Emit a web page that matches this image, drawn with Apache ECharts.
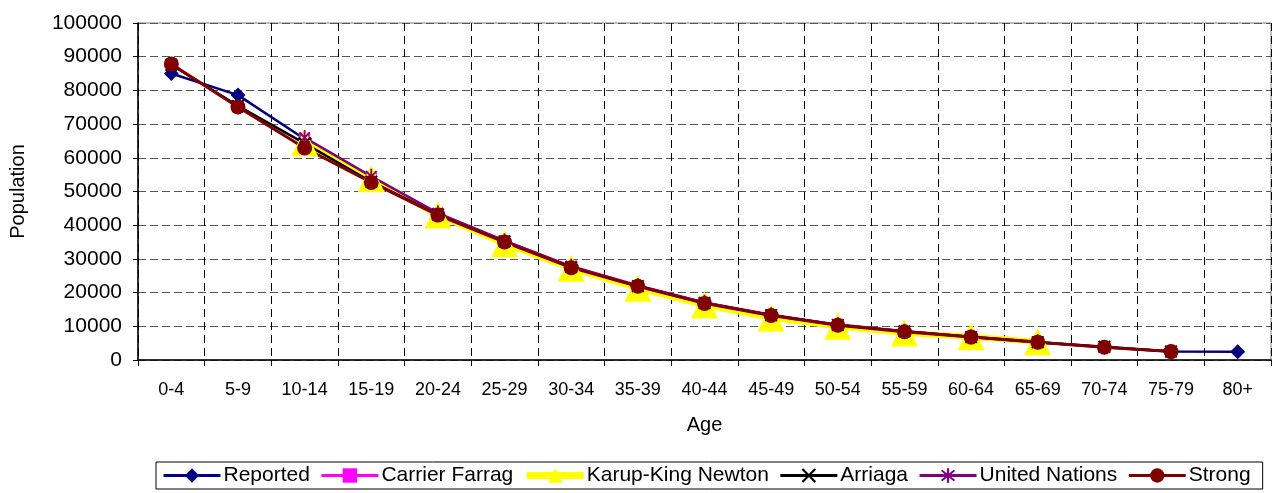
<!DOCTYPE html>
<html>
<head>
<meta charset="utf-8">
<script src="https://cdn.jsdelivr.net/npm/echarts@6/dist/echarts.min.js"></script>
<style>
  html, body { margin: 0; padding: 0; background: #fff; }
  #chart { width: 1272px; height: 493px; }
</style>
</head>
<body>
<div id="chart"></div>
<script>
// Age groups on the horizontal axis
const ageGroups = ['0-4', '5-9', '10-14', '15-19', '20-24', '25-29', '30-34', '35-39', '40-44',
  '45-49', '50-54', '55-59', '60-64', '65-69', '70-74', '75-79', '80+'];

// Population by age group for each smoothing method (null = not computed)
const reported = [85000, 78600, 65600, 53400, 43200, 35200, 27600, 21900, 16900, 13300, 10400, 8400, 6800, 5300, 3800, 2500, 2450];
const carrierFarrag = [null, null, 65800, 54300, 43500, 35300, 27700, 22000, 17000, 13300, 10400, 8400, 6800, 5300, null, null, null];
const karupKingNewton = [null, null, 64500, 53800, 43000, 34500, 27200, 21300, 16300, 12500, 10000, 8000, 6900, 5400, null, null, null];
const arriaga = [87600, 75400, 64300, 52900, 43200, 35200, 27600, 21900, 16900, 13300, 10400, 8500, 6800, 5300, 3900, 2500, null];
const unitedNations = [null, null, 66000, 54500, 43600, 35400, 27800, 22100, 17100, 13400, 10500, 8500, 6900, 5400, null, null, null];
const strong = [87800, 75100, 62900, 52700, 43000, 35000, 27400, 21900, 16800, 13200, 10300, 8400, 6800, 5300, 3800, 2500, null];

// Value axis settings
const yMin = 0, yMax = 100000, yStep = 10000;

const FONT = '"Liberation Sans", Arial, sans-serif';

// Marker shapes drawn as filled paths
const crossPath = 'path://M-6.15,-7.85 L7.85,6.15 L6.15,7.85 L-7.85,-6.15 Z M7.85,-6.15 L-6.15,7.85 L-7.85,6.15 L6.15,-7.85 Z';
const starPath = 'path://M-6.15,-7.85 L7.85,6.15 L6.15,7.85 L-7.85,-6.15 Z M7.85,-6.15 L-6.15,7.85 L-7.85,6.15 L6.15,-7.85 Z M-1.2,-10 L1.2,-10 L1.2,10 L-1.2,10 Z';

const seriesDefs = [
  { name: 'Reported', data: reported, color: '#000080', symbol: 'diamond', size: 15, width: 2.5 },
  { name: 'Carrier Farrag', data: carrierFarrag, color: '#FF00FF', symbol: 'rect', size: 11, width: 2.5 },
  { name: 'Karup-King Newton', data: karupKingNewton, color: '#FFFF00', symbol: 'triangle', size: 27, width: 6 },
  { name: 'Arriaga', data: arriaga, color: '#000000', symbol: crossPath, size: 13, width: 2.5 },
  { name: 'United Nations', data: unitedNations, color: '#800080', symbol: starPath, size: 15, width: 2.5 },
  { name: 'Strong', data: strong, color: '#800000', symbol: 'circle', size: 15, width: 3 }
];

const chart = echarts.init(document.getElementById('chart'), null, { renderer: 'canvas' });
chart.setOption({
  animation: false,
  backgroundColor: '#fff',
  textStyle: { fontFamily: FONT },
  grid: {
    left: 138, right: 1, top: 23, bottom: 133,
    show: true, borderColor: '#808080', borderWidth: 1
  },
  legend: {
    left: 156, top: 462, right: 0,
    itemWidth: 57, itemHeight: 18, itemGap: 10,
    padding: [3, 12, 3, 6],
    borderColor: '#000', borderWidth: 1,
    textStyle: { fontFamily: FONT, fontSize: 21, color: '#000', padding: [0, 0, 0, -2] },
    data: seriesDefs.map(s => ({
      name: s.name,
      lineStyle: { width: s.width === 6 ? 7 : 3, color: s.color }
    }))
  },
  xAxis: {
    type: 'category',
    data: ageGroups,
    boundaryGap: true,
    name: 'Age',
    nameLocation: 'middle',
    nameGap: 55,
    nameTextStyle: { fontFamily: FONT, fontSize: 20, color: '#000' },
    axisLine: { lineStyle: { color: '#000', width: 1.5 } },
    axisTick: { show: true, length: 6, lineStyle: { color: '#000' } },
    axisLabel: { fontFamily: FONT, fontSize: 18, color: '#000', margin: 21, interval: 0 },
    splitLine: { show: true, lineStyle: { color: '#000', type: [8, 5], width: 1 } }
  },
  yAxis: {
    type: 'value',
    min: yMin, max: yMax, interval: yStep,
    name: 'Population',
    nameLocation: 'middle',
    nameGap: 110,
    nameTextStyle: { fontFamily: FONT, fontSize: 20, color: '#000' },
    axisLine: { show: true, lineStyle: { color: '#000', width: 1.5 } },
    axisTick: { show: true, length: 5, lineStyle: { color: '#000' } },
    axisLabel: { fontFamily: FONT, fontSize: 21, color: '#000', margin: 16, formatter: v => String(v) },
    splitLine: { show: true, lineStyle: { color: '#555', type: [8, 4], width: 1 } }
  },
  series: seriesDefs.map(s => ({
    name: s.name,
    type: 'line',
    data: s.data,
    symbol: s.symbol,
    symbolSize: s.size,
    symbolKeepAspect: true,
    showAllSymbol: true,
    connectNulls: false,
    lineStyle: { color: s.color, width: s.width },
    itemStyle: { color: s.color, borderWidth: 0 },
    emphasis: { disabled: true }
  }))
});
</script>
</body>
</html>
